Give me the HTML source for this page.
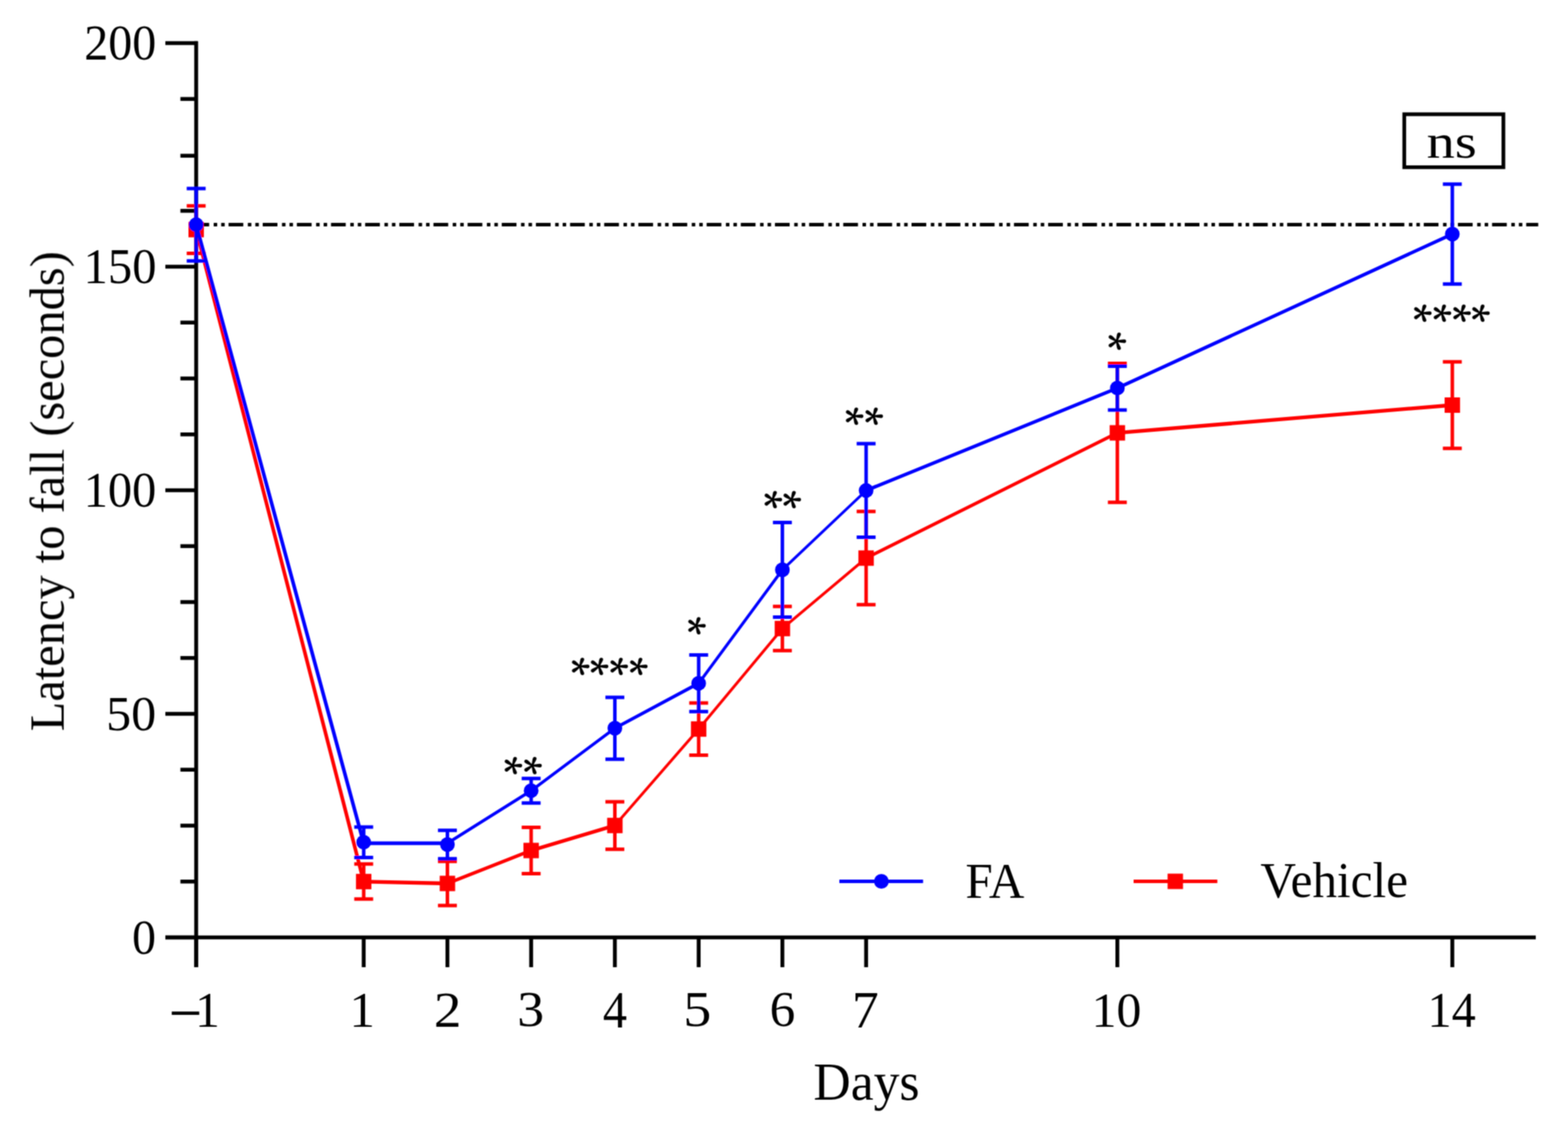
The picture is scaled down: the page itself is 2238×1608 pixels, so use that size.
<!DOCTYPE html><html><head><meta charset="utf-8"><title>Latency to fall</title><style>html,body{margin:0;padding:0;background:#fff;}svg{display:block}text{font-family:"Liberation Serif",serif;fill:#000}</style></head><body>
<div id="w">
<svg width="2238" height="1608" viewBox="0 0 2238 1608">
<defs><filter id="soft" x="0" y="0" width="2238" height="1608" filterUnits="userSpaceOnUse"><feConvolveMatrix order="3" kernelMatrix="1 2 1 2 4 2 1 2 1" divisor="16" edgeMode="duplicate"/></filter></defs>
<rect width="2238" height="1608" fill="#fff"/>
<g filter="url(#soft)">
<g stroke="#000" stroke-width="5.5" stroke-linecap="butt" fill="none"><line x1="280" y1="58.8" x2="280" y2="1380" /><line x1="236" y1="1337.5" x2="2192" y2="1337.5" /><line x1="236" y1="1337.5" x2="282" y2="1337.5" /><line x1="236" y1="1018.5" x2="282" y2="1018.5" /><line x1="236" y1="699.5" x2="282" y2="699.5" /><line x1="236" y1="380.5" x2="282" y2="380.5" /><line x1="236" y1="61.5" x2="282" y2="61.5" /><line x1="257.5" y1="1257.8" x2="280" y2="1257.8" /><line x1="257.5" y1="1178.0" x2="280" y2="1178.0" /><line x1="257.5" y1="1098.2" x2="280" y2="1098.2" /><line x1="257.5" y1="938.8" x2="280" y2="938.8" /><line x1="257.5" y1="859.0" x2="280" y2="859.0" /><line x1="257.5" y1="779.2" x2="280" y2="779.2" /><line x1="257.5" y1="619.8" x2="280" y2="619.8" /><line x1="257.5" y1="540.0" x2="280" y2="540.0" /><line x1="257.5" y1="460.2" x2="280" y2="460.2" /><line x1="257.5" y1="300.8" x2="280" y2="300.8" /><line x1="257.5" y1="222.2" x2="280" y2="222.2" /><line x1="257.5" y1="141.2" x2="280" y2="141.2" /><line x1="280.0" y1="1337.5" x2="280.0" y2="1380" /><line x1="519.1" y1="1337.5" x2="519.1" y2="1380" /><line x1="638.6" y1="1337.5" x2="638.6" y2="1380" /><line x1="758.1" y1="1337.5" x2="758.1" y2="1380" /><line x1="877.6" y1="1337.5" x2="877.6" y2="1380" /><line x1="997.2" y1="1337.5" x2="997.2" y2="1380" /><line x1="1116.7" y1="1337.5" x2="1116.7" y2="1380" /><line x1="1236.2" y1="1337.5" x2="1236.2" y2="1380" /><line x1="1594.8" y1="1337.5" x2="1594.8" y2="1380" /><line x1="2072.9" y1="1337.5" x2="2072.9" y2="1380" /></g>
<line x1="277.5" y1="320.5" x2="2195.5" y2="320.5" stroke="#000" stroke-width="5" stroke-dasharray="21 6.5 5 5.7 5 5.54" />
<line x1="280.0" y1="327.6" x2="519.1" y2="1257.8" stroke="#ff0000" stroke-width="5.13" stroke-linecap="round"/><line x1="519.1" y1="1257.8" x2="638.6" y2="1260.5" stroke="#ff0000" stroke-width="5.30" stroke-linecap="round"/><line x1="638.6" y1="1260.5" x2="758.1" y2="1213.5" stroke="#ff0000" stroke-width="4.93" stroke-linecap="round"/><line x1="758.1" y1="1213.5" x2="877.6" y2="1177.8" stroke="#ff0000" stroke-width="5.08" stroke-linecap="round"/><line x1="877.6" y1="1177.8" x2="997.2" y2="1040.2" stroke="#ff0000" stroke-width="4.00" stroke-linecap="round"/><line x1="997.2" y1="1040.2" x2="1116.7" y2="896.8" stroke="#ff0000" stroke-width="4.07" stroke-linecap="round"/><line x1="1116.7" y1="896.8" x2="1236.2" y2="796.3" stroke="#ff0000" stroke-width="4.06" stroke-linecap="round"/><line x1="1236.2" y1="796.3" x2="1594.8" y2="617.6" stroke="#ff0000" stroke-width="4.74" stroke-linecap="round"/><line x1="1594.8" y1="617.6" x2="2072.9" y2="578.0" stroke="#ff0000" stroke-width="5.28" stroke-linecap="round"/><path d="M280.0 293.7V361.4M266.5 293.7H293.5M266.5 361.4H293.5M519.1 1232.8V1282.7M505.6 1232.8H532.6M505.6 1282.7H532.6M638.6 1229.0V1292.0M625.1 1229.0H652.1M625.1 1292.0H652.1M758.1 1180.4V1246.6M744.6 1180.4H771.6M744.6 1246.6H771.6M877.6 1144.0V1211.7M864.1 1144.0H891.1M864.1 1211.7H891.1M997.2 1003.0V1077.4M983.7 1003.0H1010.7M983.7 1077.4H1010.7M1116.7 865.2V928.3M1103.2 865.2H1130.2M1103.2 928.3H1130.2M1236.2 729.8V862.8M1222.7 729.8H1249.7M1222.7 862.8H1249.7M1594.8 518.4V716.8M1581.3 518.4H1608.3M1581.3 716.8H1608.3M2072.9 516.3V639.7M2059.4 516.3H2086.4M2059.4 639.7H2086.4" fill="none" stroke="#ff0000" stroke-width="5.0"/><rect x="269.0" y="316.6" width="22" height="22" fill="#ff0000"/><rect x="508.1" y="1246.8" width="22" height="22" fill="#ff0000"/><rect x="627.6" y="1249.5" width="22" height="22" fill="#ff0000"/><rect x="747.1" y="1202.5" width="22" height="22" fill="#ff0000"/><rect x="866.6" y="1166.8" width="22" height="22" fill="#ff0000"/><rect x="986.2" y="1029.2" width="22" height="22" fill="#ff0000"/><rect x="1105.7" y="885.8" width="22" height="22" fill="#ff0000"/><rect x="1225.2" y="785.3" width="22" height="22" fill="#ff0000"/><rect x="1583.8" y="606.6" width="22" height="22" fill="#ff0000"/><rect x="2061.9" y="567.0" width="22" height="22" fill="#ff0000"/>
<line x1="280.0" y1="320.6" x2="519.1" y2="1203.2" stroke="#0000ff" stroke-width="5.12" stroke-linecap="round"/><line x1="519.1" y1="1203.2" x2="638.6" y2="1203.2" stroke="#0000ff" stroke-width="5.30" stroke-linecap="round"/><line x1="638.6" y1="1203.2" x2="758.1" y2="1128.2" stroke="#0000ff" stroke-width="4.49" stroke-linecap="round"/><line x1="758.1" y1="1128.2" x2="877.6" y2="1039.0" stroke="#0000ff" stroke-width="4.25" stroke-linecap="round"/><line x1="877.6" y1="1039.0" x2="997.2" y2="974.9" stroke="#0000ff" stroke-width="4.67" stroke-linecap="round"/><line x1="997.2" y1="974.9" x2="1116.7" y2="813.0" stroke="#0000ff" stroke-width="4.26" stroke-linecap="round"/><line x1="1116.7" y1="813.0" x2="1236.2" y2="699.8" stroke="#0000ff" stroke-width="3.85" stroke-linecap="round"/><line x1="1236.2" y1="699.8" x2="1594.8" y2="553.7" stroke="#0000ff" stroke-width="4.91" stroke-linecap="round"/><line x1="1594.8" y1="553.7" x2="2072.9" y2="334.0" stroke="#0000ff" stroke-width="4.82" stroke-linecap="round"/><path d="M280.0 268.9V372.3M266.5 268.9H293.5M266.5 372.3H293.5M519.1 1180.0V1223.4M505.6 1180.0H532.6M505.6 1223.4H532.6M638.6 1184.7V1225.3M625.1 1184.7H652.1M625.1 1225.3H652.1M758.1 1110.7V1145.8M744.6 1110.7H771.6M744.6 1145.8H771.6M877.6 994.9V1083.2M864.1 994.9H891.1M864.1 1083.2H891.1M997.2 934.5V1015.3M983.7 934.5H1010.7M983.7 1015.3H1010.7M1116.7 745.5V880.5M1103.2 745.5H1130.2M1103.2 880.5H1130.2M1236.2 633.1V766.5M1222.7 633.1H1249.7M1222.7 766.5H1249.7M1594.8 522.4V585.0M1581.3 522.4H1608.3M1581.3 585.0H1608.3M2072.9 262.8V405.2M2059.4 262.8H2086.4M2059.4 405.2H2086.4" fill="none" stroke="#0000ff" stroke-width="5.0"/><circle cx="280.0" cy="320.6" r="10.5" fill="#0000ff"/><circle cx="519.1" cy="1201.7" r="10.5" fill="#0000ff"/><circle cx="638.6" cy="1205.0" r="10.5" fill="#0000ff"/><circle cx="758.1" cy="1128.2" r="10.5" fill="#0000ff"/><circle cx="877.6" cy="1039.0" r="10.5" fill="#0000ff"/><circle cx="997.2" cy="974.9" r="10.5" fill="#0000ff"/><circle cx="1116.7" cy="813.0" r="10.5" fill="#0000ff"/><circle cx="1236.2" cy="699.8" r="10.5" fill="#0000ff"/><circle cx="1594.8" cy="553.7" r="10.5" fill="#0000ff"/><circle cx="2072.9" cy="334.0" r="10.5" fill="#0000ff"/>
<text transform="matrix(0.6855 0 0 0.7096 120.32 84.69)" font-size="100">200</text>
<text transform="matrix(0.6927 0 0 0.7111 119.37 403.79)" font-size="100">150</text>
<text transform="matrix(0.6912 0 0 0.7141 119.48 723.39)" font-size="100">100</text>
<text transform="matrix(0.7133 0 0 0.7007 151.62 1042.00)" font-size="100">50</text>
<text transform="matrix(0.6833 0 0 0.7037 188.57 1361.30)" font-size="100">0</text>
<text transform="matrix(0.7286 0 0 0.7252 498.84 1465.20)" font-size="100">1</text>
<text transform="matrix(0.7875 0 0 0.7197 619.16 1465.20)" font-size="100">2</text>
<text transform="matrix(0.7683 0 0 0.7090 738.16 1464.49)" font-size="100">3</text>
<text transform="matrix(0.6903 0 0 0.7308 860.52 1465.57)" font-size="100">4</text>
<text transform="matrix(0.8000 0 0 0.7143 975.30 1464.49)" font-size="100">5</text>
<text transform="matrix(0.7318 0 0 0.7090 1098.61 1464.49)" font-size="100">6</text>
<text transform="matrix(0.7654 0 0 0.7308 1216.02 1465.57)" font-size="100">7</text>
<text transform="matrix(0.7126 0 0 0.7037 1557.89 1464.50)" font-size="100">10</text>
<text transform="matrix(0.6872 0 0 0.7252 2037.62 1465.20)" font-size="100">14</text>
<text transform="matrix(0.8430 0 0 0.9400 240.68 1477.07)" font-size="100">−</text>
<text transform="matrix(0.7057 0 0 0.7145 278.45 1464.90)" font-size="100">1</text>
<text transform="matrix(0.7367 0 0 0.7549 1160.99 1568.65)" font-size="100">Days</text>
<text transform="translate(90.90 1043.37) rotate(-90) scale(0.6910 0.7000)" font-size="100">Latency to fall (seconds)</text>
<line x1="1198" y1="1257.5" x2="1317.5" y2="1257.5" stroke="#0000ff" stroke-width="5.0"/>
<circle cx="1258" cy="1257.5" r="10.5" fill="#0000ff"/>
<text transform="matrix(0.6987 0 0 0.7267 1377.90 1280.60)" font-size="100">FA</text>
<line x1="1618" y1="1257.5" x2="1737.5" y2="1257.5" stroke="#ff0000" stroke-width="5.0"/>
<rect x="1666.5" y="1246.5" width="22" height="22" fill="#ff0000"/>
<text transform="matrix(0.7025 0 0 0.7099 1799.10 1280.14)" font-size="100">Vehicle</text>
<rect x="2004.3" y="163" width="141.5" height="75.6" fill="none" stroke="#000" stroke-width="5.3"/>
<text transform="matrix(0.8036 0 0 0.6771 2036.29 224.72)" font-size="100">ns</text>
<text transform="translate(698.80 1079.53) rotate(90) scale(0.5364 0.5619)" font-size="100" stroke="#000" stroke-width="2.61" style="font-family:'Noto Serif CJK SC',serif">*</text>
<text transform="translate(726.50 1079.53) rotate(90) scale(0.5364 0.5619)" font-size="100" stroke="#000" stroke-width="2.61" style="font-family:'Noto Serif CJK SC',serif">*</text>
<text transform="translate(794.50 938.03) rotate(90) scale(0.5364 0.5619)" font-size="100" stroke="#000" stroke-width="2.61" style="font-family:'Noto Serif CJK SC',serif">*</text>
<text transform="translate(822.20 938.03) rotate(90) scale(0.5364 0.5619)" font-size="100" stroke="#000" stroke-width="2.61" style="font-family:'Noto Serif CJK SC',serif">*</text>
<text transform="translate(849.90 938.03) rotate(90) scale(0.5364 0.5619)" font-size="100" stroke="#000" stroke-width="2.61" style="font-family:'Noto Serif CJK SC',serif">*</text>
<text transform="translate(877.60 938.03) rotate(90) scale(0.5364 0.5619)" font-size="100" stroke="#000" stroke-width="2.61" style="font-family:'Noto Serif CJK SC',serif">*</text>
<text transform="translate(961.00 879.93) rotate(90) scale(0.5364 0.5619)" font-size="100" stroke="#000" stroke-width="2.61" style="font-family:'Noto Serif CJK SC',serif">*</text>
<text transform="translate(1069.55 699.88) rotate(90) scale(0.5364 0.5619)" font-size="100" stroke="#000" stroke-width="2.61" style="font-family:'Noto Serif CJK SC',serif">*</text>
<text transform="translate(1097.25 699.88) rotate(90) scale(0.5364 0.5619)" font-size="100" stroke="#000" stroke-width="2.61" style="font-family:'Noto Serif CJK SC',serif">*</text>
<text transform="translate(1186.40 580.98) rotate(90) scale(0.5364 0.5619)" font-size="100" stroke="#000" stroke-width="2.61" style="font-family:'Noto Serif CJK SC',serif">*</text>
<text transform="translate(1214.10 580.98) rotate(90) scale(0.5364 0.5619)" font-size="100" stroke="#000" stroke-width="2.61" style="font-family:'Noto Serif CJK SC',serif">*</text>
<text transform="translate(1560.55 473.98) rotate(90) scale(0.5364 0.5619)" font-size="100" stroke="#000" stroke-width="2.61" style="font-family:'Noto Serif CJK SC',serif">*</text>
<text transform="translate(1997.25 434.03) rotate(90) scale(0.5364 0.5619)" font-size="100" stroke="#000" stroke-width="2.61" style="font-family:'Noto Serif CJK SC',serif">*</text>
<text transform="translate(2024.95 434.03) rotate(90) scale(0.5364 0.5619)" font-size="100" stroke="#000" stroke-width="2.61" style="font-family:'Noto Serif CJK SC',serif">*</text>
<text transform="translate(2052.65 434.03) rotate(90) scale(0.5364 0.5619)" font-size="100" stroke="#000" stroke-width="2.61" style="font-family:'Noto Serif CJK SC',serif">*</text>
<text transform="translate(2080.35 434.03) rotate(90) scale(0.5364 0.5619)" font-size="100" stroke="#000" stroke-width="2.61" style="font-family:'Noto Serif CJK SC',serif">*</text>
</g></svg></div></body></html>
